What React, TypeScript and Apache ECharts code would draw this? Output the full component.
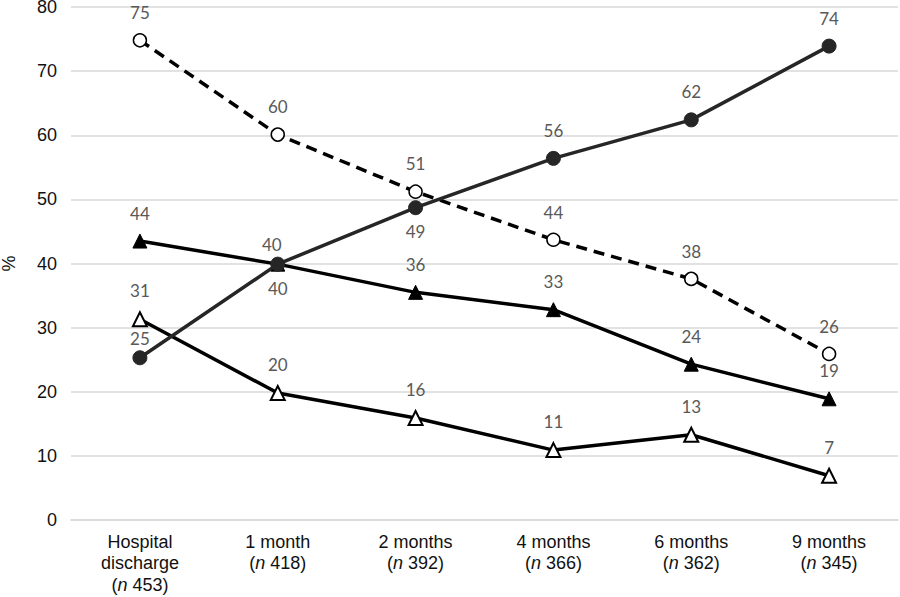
import React, { useEffect, useRef } from "react";
import * as echarts from "echarts";

const categories = [
  "Hospital\ndischarge\n({i|n} 453)",
  "1 month\n({i|n} 418)",
  "2 months\n({i|n} 392)",
  "4 months\n({i|n} 366)",
  "6 months\n({i|n} 362)",
  "9 months\n({i|n} 345)",
];

const filledCircle = [25.3, 39.9, 48.7, 56.4, 62.4, 73.9];
const openCircle = [74.8, 60.1, 51.2, 43.7, 37.6, 25.9];
const filledTriangle = [43.5, 39.9, 35.5, 32.8, 24.3, 18.9];
const openTriangle = [31.3, 19.8, 15.9, 10.9, 13.3, 6.9];

// label positions for the filled-circle series (some sit below the point)
const filledCircleLabelPos = ["top", "bottom", "bottom", "top", "top", "top"];

const LABEL_COLOR = "#595959";
const LABEL_FONT = "Lato, 'Noto Sans', sans-serif";
const AXIS_FONT = "'Liberation Sans', Arial, sans-serif";

const labelStyle = {
  show: true,
  position: "top" as const,
  distance: 12,
  color: LABEL_COLOR,
  fontSize: 17,
  fontFamily: LABEL_FONT,
  formatter: (p: any) => String(Math.round(p.value)),
};

const App: React.FC = () => {
  const chartRef = useRef<HTMLDivElement>(null);

  useEffect(() => {
    document.body.style.margin = "0";
    if (!chartRef.current) return;
    const chart = echarts.init(chartRef.current, null, { renderer: "svg" });

    const option: any = {
      animation: false,
      backgroundColor: "#fff",
      grid: {
        left: 71,
        right: 2,
        top: 7,
        bottom: 77,
        containLabel: false,
        outerBoundsMode: "none",
      },
      xAxis: {
        type: "category",
        data: categories,
        boundaryGap: true,
        axisLine: { lineStyle: { color: "#d9d9d9", width: 1.5 } },
        axisTick: { show: false },
        axisLabel: {
          color: "#111",
          fontSize: 18,
          fontFamily: AXIS_FONT,
          lineHeight: 21.5,
          margin: 11,
          interval: 0,
          rich: {
            i: {
              fontStyle: "italic",
              fontSize: 18,
              color: "#111",
              fontFamily: AXIS_FONT,
            },
          },
        },
      },
      yAxis: {
        type: "value",
        min: 0,
        max: 80,
        interval: 10,
        name: "%",
        nameLocation: "middle",
        nameRotate: 90,
        nameGap: 53,
        nameTextStyle: {
          color: "#111",
          fontSize: 18,
          fontFamily: AXIS_FONT,
        },
        axisLine: { show: false },
        axisTick: { show: false },
        axisLabel: {
          color: "#111",
          fontSize: 18,
          margin: 14,
          fontFamily: AXIS_FONT,
        },
        splitLine: { lineStyle: { color: "#d9d9d9", width: 1.5 } },
      },
      series: [
        {
          name: "Open triangle",
          type: "line",
          data: openTriangle,
          symbol: "triangle",
          symbolSize: 14,
          lineStyle: { color: "#000", width: 3.5 },
          itemStyle: { color: "#fff", borderColor: "#000", borderWidth: 2 },
          label: labelStyle,
          z: 2,
        },
        {
          name: "Filled triangle",
          type: "line",
          data: filledTriangle.map((v, i) => ({
            value: v,
            label: i === 1 ? { distance: 4, offset: [-6, 0] } : {},
          })),
          symbol: "triangle",
          symbolSize: 14,
          lineStyle: { color: "#000", width: 3.5 },
          itemStyle: { color: "#000", borderColor: "#000", borderWidth: 1 },
          label: labelStyle,
          z: 3,
        },
        {
          name: "Open circle",
          type: "line",
          data: openCircle,
          symbol: "circle",
          symbolSize: 13,
          lineStyle: { color: "#000", width: 3.5, type: [11, 7] },
          itemStyle: { color: "#fff", borderColor: "#000", borderWidth: 1.5 },
          label: labelStyle,
          z: 4,
        },
        {
          name: "Filled circle",
          type: "line",
          data: filledCircle.map((v, i) => ({
            value: v,
            label: {
              position: filledCircleLabelPos[i] as any,
              distance:
                filledCircleLabelPos[i] === "bottom" ? 8 : i === 0 ? 3 : 12,
            },
          })),
          symbol: "circle",
          symbolSize: 14,
          lineStyle: { color: "#262626", width: 3.5 },
          itemStyle: { color: "#262626", borderColor: "#262626", borderWidth: 1 },
          label: labelStyle,
          z: 5,
        },
      ],
    };

    chart.setOption(option);
    return () => chart.dispose();
  }, []);

  return <div ref={chartRef} style={{ width: 900, height: 597 }} />;
};

export default App;
